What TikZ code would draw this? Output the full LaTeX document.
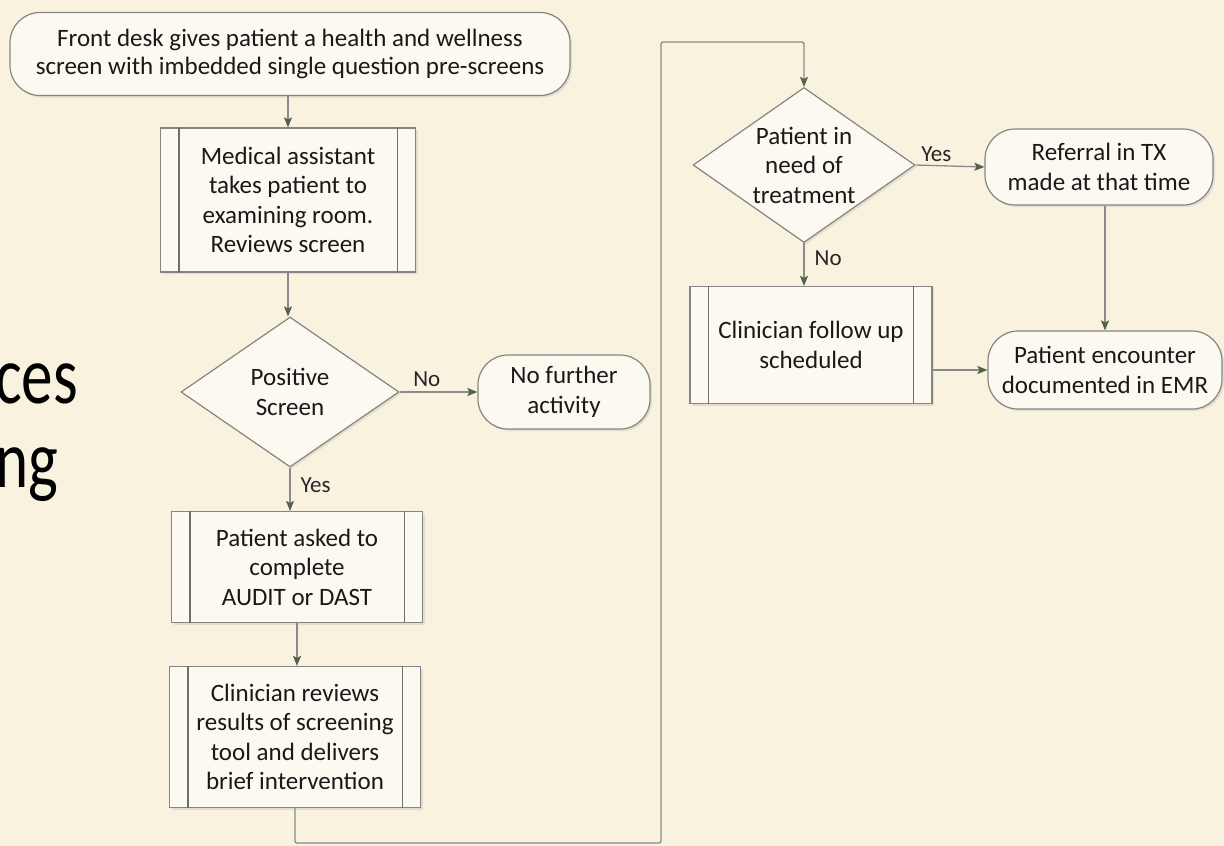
\documentclass[tikz,border=0pt]{standalone}
\usepackage{fontspec}
\setmainfont{Carlito}
\usetikzlibrary{arrows.meta,shapes.geometric,shadows}
\definecolor{bgc}{HTML}{F8F2DF}
\definecolor{nodefill}{HTML}{FCF9F0}
\definecolor{bordc}{HTML}{858585}
\definecolor{innerc}{HTML}{6E6E6E}
\definecolor{linec}{HTML}{8A8A8A}
\definecolor{tipc}{HTML}{56604F}
\newcommand\diagfont{\fontsize{25}{29.5}\selectfont}
\newcommand\startfont{\fontsize{25}{28.5}\selectfont}
\newcommand\lblfont{\fontsize{23}{26}\selectfont}
\newcommand\bigfont{\fontsize{82}{82}\selectfont}
\tikzset{
  base/.style={draw=bordc, fill=nodefill, line width=1.2pt, font=\diagfont, align=center,
    inner sep=0pt, text=black!90,
    drop shadow={shadow xshift=2pt, shadow yshift=-2pt, opacity=0.18}},
  term/.style={base, rounded corners=30pt},
  proc/.style={base},
  dec/.style={base, diamond, aspect=1.45},
  conn/.style={draw=linec, line width=1.3pt, -{Stealth[length=10pt,width=8pt,inset=2pt,color=tipc]}},
  lbl/.style={font=\lblfont, inner sep=1pt, text=black!85},
  inner/.style={draw=innerc, line width=1.2pt}
}
\begin{document}
\begin{tikzpicture}[x=1pt,y=-1pt]
\fill[bgc] (0,0) rectangle (1224,846);
\useasboundingbox (0,0) rectangle (1224,846);

% partial slide title text
\node[anchor=base west, font=\bigfont, inner sep=0pt] (ces) at (-5,403) {\scalebox{0.77}[1]{ces}};
\node[anchor=base west, font=\bigfont, inner sep=0pt] (ng) at (-5,487) {\scalebox{0.77}[1]{ng}};

% left column
\node[term, font=\startfont, minimum width=560pt, minimum height=83pt] (start) at (290,54)
  {Front desk gives patient a health and wellness\\screen with imbedded single question pre-screens};
\node[proc, minimum width=255pt, minimum height=144pt] (ma) at (288,200)
  {Medical assistant\\takes patient to\\examining room.\\Reviews screen};
\node[dec, minimum width=218pt, minimum height=150pt] (pos) at (290,392)
  {Positive\\Screen};
\node[term, minimum width=172pt, minimum height=74pt] (nofur) at (564,392)
  {No further\\activity};
\node[proc, minimum width=251pt, minimum height=111pt] (pat) at (297,567)
  {Patient asked to\\complete\\AUDIT or DAST};
\node[proc, minimum width=251pt, minimum height=141pt] (clin) at (295,737)
  {Clinician reviews\\results of screening\\tool and delivers\\brief intervention};

% right column
\node[dec, minimum width=222pt, minimum height=155pt] (need) at (804,165)
  {Patient in\\need of\\treatment};
\node[term, minimum width=228pt, minimum height=76pt] (ref) at (1099,167)
  {Referral in TX\\made at that time};
\node[proc, minimum width=242pt, minimum height=117pt] (follow) at (811,345)
  {Clinician follow up\\scheduled};
\node[term, minimum width=234pt, minimum height=78pt] (enc) at (1105,370)
  {Patient encounter\\documented in EMR};

% inner lines of process boxes
\foreach \n in {ma,pat,clin,follow}{
  \draw[inner] ([xshift=19pt]\n.north west) -- ([xshift=19pt]\n.south west);
  \draw[inner] ([xshift=-19pt]\n.north east) -- ([xshift=-19pt]\n.south east);
}

% connectors
\draw[conn] (start.south -| ma.north) -- (ma.north);
\draw[conn] (ma.south) -- (ma.south |- pos.north);
\draw[conn] (pos.east) -- (nofur.west) node[lbl, pos=0.35, above=4pt] (lno) {No};
\draw[conn] (pos.south) -- (pos.south |- pat.north) node[lbl, pos=0.4, right=9pt] (lyes) {Yes};
\draw[conn] (pat.south) -- (pat.south |- clin.north);
\coordinate (c1) at (295,843);
\coordinate (c2) at (661,843);
\coordinate (c3) at (661,42);
\coordinate (c4) at (804,42);
\draw[conn, rounded corners=2pt] (clin.south) -- (c1) -- (c2) -- (c3) -- (c4) -- (need.north);
\draw[conn] (need.east) -- (ref.west) node[lbl, pos=0.3, above=2pt] (lyes2) {Yes};
\draw[conn] (need.south) -- (need.south |- follow.north) node[lbl, pos=0.35, right=9pt] (lno2) {No};
\draw[conn] (follow.east |- enc.west) -- (enc.west);
\draw[conn] (ref.south -| enc.north) -- (enc.north);
\end{tikzpicture}
\end{document}
